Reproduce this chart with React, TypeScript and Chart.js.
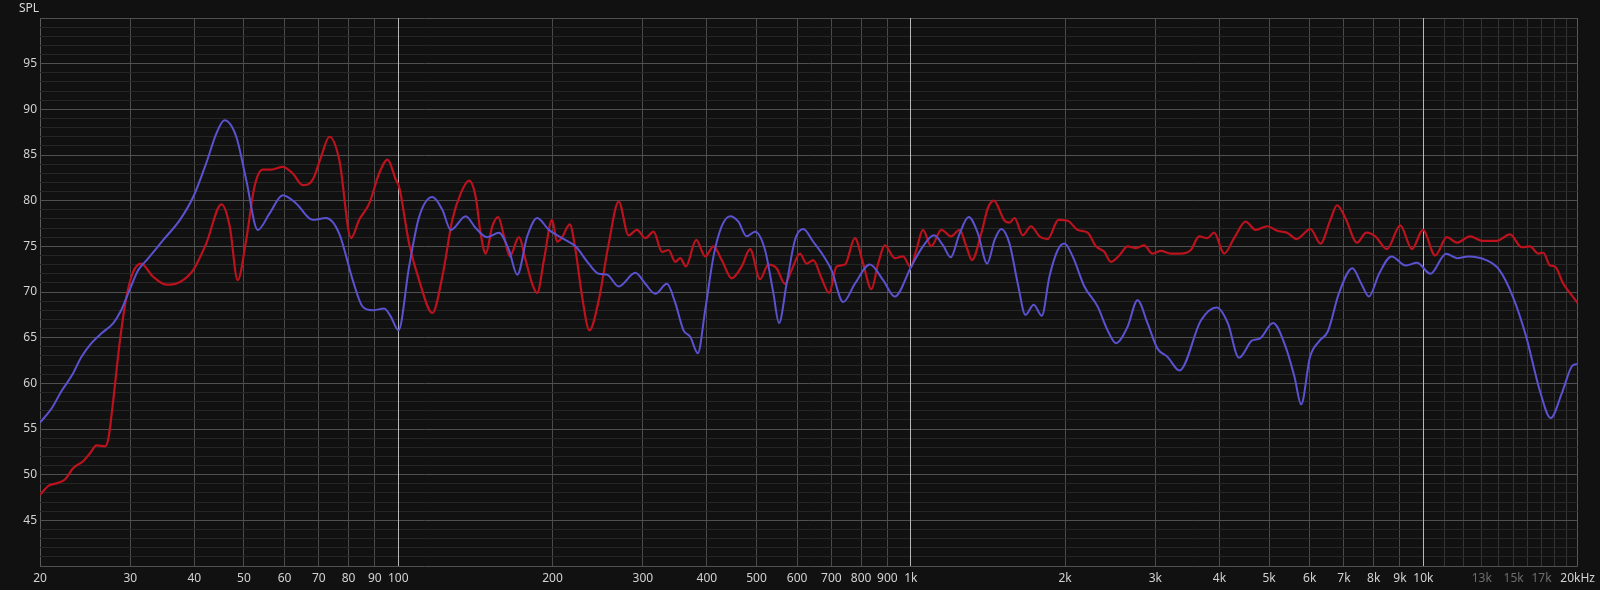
import React, { useEffect, useRef } from "react";
import { Chart, registerables } from "chart.js";

Chart.register(...registerables);

// Frequency response data (Hz, dB SPL)
const redFreq = [20, 20.8, 21.7, 22.4, 23.2, 24.3, 25.0, 25.8, 26.8, 27.2, 27.8, 28.6, 29.5, 30.4, 31.5, 33.2, 35.3, 37.5, 39.8, 42.2, 45.2, 46.9, 48.6, 50.5, 52.4, 54.4, 56.5, 59.5, 62.2, 65.1, 68.1, 70.7, 73.4, 76.7, 80.9, 83.9, 87.8, 91.8, 95.3, 98.9, 100.4, 105.0, 109.8, 116.6, 121.9, 127.5, 132.4, 137.5, 141.6, 144.8, 148.1, 152.6, 156.7, 160.8, 165.0, 172.0, 177.2, 182.5, 186.7, 192.4, 199.6, 204.2, 208.8, 216.1, 221.7, 228.4, 236.0, 246.1, 257.4, 269.2, 281.5, 292.2, 303.4, 314.9, 326.9, 336.8, 347.1, 355.0, 364.0, 381.3, 397.0, 412.1, 427.7, 447.3, 467.8, 485.7, 508.0, 527.3, 547.2, 568.2, 585.3, 607.8, 626.0, 645.1, 669.5, 693.1, 716.3, 743.8, 777.8, 807.2, 837.8, 863.4, 889.7, 930.6, 965.9, 999.7, 1025, 1056, 1096, 1147, 1199, 1245, 1283, 1316, 1372, 1414, 1452, 1524, 1558, 1593, 1654, 1716, 1782, 1850, 1941, 2023, 2116, 2213, 2297, 2385, 2457, 2551, 2648, 2748, 2853, 2962, 3074, 3215, 3363, 3517, 3652, 3790, 3907, 4086, 4273, 4500, 4706, 4960, 5187, 5424, 5655, 6022, 6298, 6586, 6786, 7044, 7424, 7738, 8058, 8492, 9014, 9498, 9980, 10544, 11113, 11624, 12340, 13004, 13906, 14760, 15554, 16143, 16762, 17142, 17658, 18058, 18750, 19312, 20000];
const redSpl = [47.8, 48.8, 49.1, 49.5, 50.7, 51.5, 52.3, 53.2, 53.1, 54.0, 58.2, 64.4, 69.5, 72.2, 73.1, 71.7, 70.8, 71.1, 72.4, 75.3, 79.6, 77.2, 71.3, 75.7, 81.5, 83.4, 83.4, 83.7, 83.0, 81.7, 82.3, 84.8, 87.0, 84.5, 75.9, 77.9, 79.7, 83.0, 84.5, 82.3, 81.5, 75.3, 71.3, 67.7, 71.7, 77.9, 80.8, 82.2, 80.4, 76.4, 74.2, 77.2, 78.2, 76.1, 73.9, 76.0, 73.5, 70.9, 69.9, 73.5, 77.9, 75.5, 76.0, 77.4, 74.6, 69.5, 65.8, 69.1, 75.3, 79.9, 76.2, 76.8, 75.9, 76.6, 74.4, 74.6, 73.3, 73.7, 72.8, 75.7, 73.9, 75.0, 73.5, 71.5, 72.8, 74.7, 71.4, 73.0, 72.6, 70.9, 72.4, 74.2, 73.1, 73.5, 71.5, 69.9, 72.8, 73.0, 75.9, 73.1, 70.3, 73.1, 75.1, 73.7, 73.9, 72.7, 74.6, 76.8, 75.0, 76.8, 76.1, 76.8, 75.0, 73.5, 76.4, 79.2, 80.0, 77.8, 77.6, 78.1, 76.2, 77.2, 76.1, 75.8, 77.9, 77.8, 76.8, 76.5, 75.0, 74.4, 73.3, 74.0, 75.0, 74.8, 75.1, 74.2, 74.5, 74.2, 74.2, 74.6, 76.1, 75.9, 76.5, 74.2, 75.9, 77.7, 76.8, 77.2, 76.7, 76.5, 75.8, 76.9, 75.3, 77.9, 79.5, 78.1, 75.4, 76.5, 76.1, 74.7, 77.3, 74.7, 76.8, 74.0, 76.0, 75.4, 76.1, 75.6, 75.6, 76.3, 74.9, 75.0, 74.2, 74.3, 72.9, 72.8, 70.9, 69.9, 68.8];

const blueFreq = [20, 21.1, 22.0, 23.1, 24.1, 25.2, 26.4, 27.8, 28.8, 29.9, 31.1, 32.3, 34.8, 37.5, 39.8, 42.2, 44.2, 45.8, 48.3, 50.5, 53.2, 56.1, 59.5, 63.2, 68.1, 72.3, 76.7, 81.5, 85.2, 89.1, 93.9, 96.7, 100.1, 105.0, 109.8, 116.6, 121.9, 126.6, 135.4, 141.6, 149.2, 157.2, 164.4, 170.7, 178.5, 186.7, 196.7, 208.8, 221.7, 235.3, 246.1, 255.4, 269.2, 290.1, 303.4, 317.3, 334.3, 347.1, 360.2, 371.2, 384.1, 397.0, 412.1, 427.7, 444.1, 460.9, 478.4, 496.8, 519.5, 539.2, 553.2, 572.3, 594.3, 616.8, 645.1, 674.6, 700.3, 738.1, 777.8, 831.9, 883.0, 930.6, 1002, 1056, 1110, 1156, 1196, 1245, 1297, 1352, 1409, 1457, 1501, 1558, 1617, 1674, 1737, 1801, 1864, 1935, 1994, 2069, 2181, 2315, 2421, 2513, 2648, 2769, 2896, 3029, 3168, 3343, 3683, 3951, 4154, 4367, 4635, 4795, 5092, 5385, 5605, 5775, 6010, 6258, 6512, 6847, 7271, 7567, 7830, 8196, 8668, 9242, 9718, 10321, 11070, 11640, 12234, 13255, 14075, 14945, 15872, 16854, 17713, 18624, 19580, 20000];
const blueSpl = [55.7, 57.3, 59.1, 60.9, 62.9, 64.4, 65.5, 66.6, 68.0, 70.2, 72.4, 73.5, 75.7, 77.9, 80.4, 84.1, 87.4, 88.8, 87.0, 82.3, 76.8, 78.6, 80.6, 79.7, 77.9, 78.1, 76.4, 71.3, 68.4, 68.0, 68.2, 67.3, 65.8, 72.8, 78.2, 80.4, 79.0, 76.8, 78.3, 77.0, 76.0, 76.5, 74.6, 71.9, 76.1, 78.1, 76.8, 75.9, 75.0, 73.1, 72.0, 71.9, 70.6, 72.1, 70.9, 69.8, 70.9, 68.8, 65.8, 65.1, 63.3, 68.0, 73.9, 77.2, 78.3, 77.7, 76.1, 76.6, 74.6, 69.9, 66.6, 70.9, 75.7, 76.9, 75.5, 74.0, 72.4, 68.9, 70.9, 73.0, 71.3, 69.5, 72.8, 75.0, 76.2, 75.1, 73.8, 76.4, 78.2, 76.4, 73.1, 75.7, 76.9, 75.3, 70.9, 67.5, 68.6, 67.4, 71.7, 74.6, 75.3, 73.9, 70.6, 68.4, 65.8, 64.4, 66.2, 69.1, 66.6, 63.8, 62.9, 61.4, 66.9, 68.3, 66.6, 62.8, 64.7, 64.9, 66.6, 64.0, 60.7, 57.7, 62.9, 64.6, 65.7, 69.9, 72.6, 70.9, 69.5, 72.0, 73.9, 72.9, 73.2, 72.0, 74.2, 73.7, 73.9, 73.5, 72.4, 69.5, 65.1, 59.3, 56.2, 58.9, 62.0, 62.1];

// Axis ticks / labels
const xTicks = [20, 30, 40, 50, 60, 70, 80, 90, 100, 200, 300, 400, 500, 600, 700, 800, 900, 1000, 2000, 3000, 4000, 5000, 6000, 7000, 8000, 9000, 10000, 11000, 12000, 13000, 14000, 15000, 16000, 17000, 18000, 19000, 20000];
const xLabels = ["20", "30", "40", "50", "60", "70", "80", "90", "100", "200", "300", "400", "500", "600", "700", "800", "900", "1k", "2k", "3k", "4k", "5k", "6k", "7k", "8k", "9k", "10k", "", "", "13k", "", "15k", "", "17k", "", "", "20kHz"];
const dimXLabels = ["13k", "15k", "17k"];
const xMajorLines = [100, 1000, 10000];
const yLabels = [45, 50, 55, 60, 65, 70, 75, 80, 85, 90, 95];
const yMin = 40;
const yMax = 100;

const FONT = '"Noto Sans", "Open Sans", sans-serif';

export default function App() {
  const ref = useRef<HTMLCanvasElement | null>(null);

  useEffect(() => {
    document.body.style.margin = "0";
    document.body.style.background = "#111111";
    const canvas = ref.current;
    if (!canvas) return;

    const yGrid: number[] = [];
    for (let v = yMin; v <= yMax; v++) yGrid.push(v);

    const overlayPlugin = {
      id: "overlay",
      beforeDatasetsDraw(chart: any) {
        const ctx = chart.ctx;
        const xs = chart.scales.x;
        const area = chart.chartArea;
        ctx.save();
        ctx.strokeStyle = "#b8b8b8";
        ctx.lineWidth = 1;
        xMajorLines.forEach((v) => {
          const px = Math.round(xs.getPixelForValue(v) - 0.5) + 0.5;
          ctx.beginPath();
          ctx.moveTo(px, area.top);
          ctx.lineTo(px, area.bottom);
          ctx.stroke();
        });
        ctx.restore();
      },
      afterDraw(chart: any) {
        const ctx = chart.ctx;
        ctx.save();
        ctx.font = `12px ${FONT}`;
        ctx.fillStyle = "#d8d8d8";
        ctx.textAlign = "left";
        ctx.textBaseline = "alphabetic";
        ctx.fillText("SPL", 19, 12);
        ctx.restore();
      },
    };

    const chart = new Chart(canvas, {
      type: "line",
      data: {
        datasets: [
          {
            label: "blue",
            data: blueFreq.map((f, i) => ({ x: f, y: blueSpl[i] })),
            borderColor: "rgb(90, 82, 208)",
            borderWidth: 2,
            pointRadius: 0,
            cubicInterpolationMode: "monotone",
            fill: false,
          },
          {
            label: "red",
            data: redFreq.map((f, i) => ({ x: f, y: redSpl[i] })),
            borderColor: "rgb(188, 18, 30)",
            borderWidth: 2.2,
            pointRadius: 0,
            cubicInterpolationMode: "monotone",
            fill: false,
          },
        ],
      },
      options: {
        animation: false,
        responsive: true,
        maintainAspectRatio: false,
        layout: { padding: { top: 18, right: 19, left: 0, bottom: 0 } },
        plugins: {
          legend: { display: false },
          tooltip: { enabled: false },
          title: { display: false },
        },
        scales: {
          x: {
            type: "logarithmic",
            min: 20,
            max: 20000,
            afterBuildTicks: (scale: any) => {
              scale.ticks = xTicks.map((v) => ({ value: v }));
            },
            afterFit: (scale: any) => {
              scale.height = 24;
            },
            ticks: {
              autoSkip: false,
              maxRotation: 0,
              minRotation: 0,
              padding: 5,
              font: { family: FONT, size: 12 },
              color: (ctx: any) => {
                const lbl = xLabels[ctx.index];
                return dimXLabels.includes(lbl) ? "#6e6e6e" : "#d2d2d2";
              },
              callback: (_v: any, i: number) => xLabels[i],
            },
            grid: {
              drawTicks: false,
              lineWidth: 1,
              color: (ctx: any) => {
                const v = ctx.tick ? ctx.tick.value : 0;
                if (xMajorLines.includes(v)) return "rgba(0,0,0,0)";
                if (v === 20 || v === 20000) return "#5a5a5a";
                if (v > 10000) return "#343434";
                return "#4a4a4a";
              },
            },
            border: { display: false },
          },
          y: {
            type: "linear",
            min: yMin,
            max: yMax,
            afterBuildTicks: (scale: any) => {
              scale.ticks = yGrid.map((v) => ({ value: v }));
            },
            afterFit: (scale: any) => {
              scale.width = 40;
            },
            ticks: {
              autoSkip: false,
              padding: 3,
              font: { family: FONT, size: 12 },
              color: "#d2d2d2",
              callback: (v: any) => (yLabels.includes(Number(v)) ? String(v) : ""),
            },
            grid: {
              drawTicks: false,
              lineWidth: 1,
              color: (ctx: any) => {
                const v = ctx.tick ? ctx.tick.value : 0;
                return v % 5 === 0 ? "#505050" : "#262626";
              },
            },
            border: { display: false },
          },
        },
      },
      plugins: [overlayPlugin],
    } as any);

    return () => chart.destroy();
  }, []);

  return (
    <div
      style={{
        position: "fixed",
        left: 0,
        top: 0,
        width: 1600,
        height: 590,
        background: "#111111",
      }}
    >
      <canvas ref={ref} />
    </div>
  );
}
